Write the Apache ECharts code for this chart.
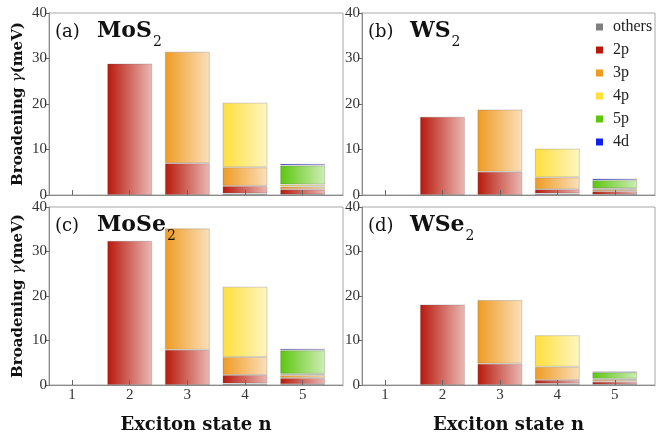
<!DOCTYPE html>
<html>
<head>
<meta charset="utf-8">
<script src="https://cdn.jsdelivr.net/npm/echarts@6/dist/echarts.min.js"></script>
<style>
  html, body { margin: 0; padding: 0; background: #fff; }
  #chart { width: 656px; height: 435px; }
</style>
</head>
<body>
<div id="chart"></div>
<script>
const states = [1, 2, 3, 4, 5];
const components = ['others', '2p', '3p', '4p', '5p', '4d'];
const yTicks = [0, 10, 20, 30, 40];

// rows follow `components`, columns follow `states` (meV)
const mos2 = [
  [0, 0, 0, 0.35, 0.1],
  [0, 28.9, 7.0, 1.65, 1.15],
  [0, 0, 24.5, 4.1, 0.6],
  [0, 0, 0, 14.2, 0.45],
  [0, 0, 0, 0, 4.2],
  [0, 0, 0, 0, 0.35],
];
const ws2 = [
  [0, 0, 0, 0.35, 0.1],
  [0, 17.2, 5.1, 0.9, 0.75],
  [0, 0, 13.7, 2.65, 0.4],
  [0, 0, 0, 6.3, 0.2],
  [0, 0, 0, 0, 1.8],
  [0, 0, 0, 0, 0.35],
];
const mose2 = [
  [0, 0, 0, 0.35, 0.15],
  [0, 32.4, 7.9, 1.9, 1.45],
  [0, 0, 27.3, 4.05, 0.6],
  [0, 0, 0, 15.8, 0.3],
  [0, 0, 0, 0, 5.3],
  [0, 0, 0, 0, 0.35],
];
const wse2 = [
  [0, 0, 0, 0.3, 0.1],
  [0, 18.1, 4.8, 0.8, 0.65],
  [0, 0, 14.3, 3.0, 0.4],
  [0, 0, 0, 7.1, 0.25],
  [0, 0, 0, 0, 1.45],
  [0, 0, 0, 0, 0.15],
];

const colors = ['#7f7f7f', '#b8180a', '#ef9a22', '#ffdf3a', '#5cc60e', '#1020e8'];
const serif = 'Liberation Serif';
const bold = 'DejaVu Serif';

const panels = [
  { data: mos2, letter: '(a)', formula: 'MoS', grid: { left: 49, top: 13, width: 294, height: 182 }, yName: true, xName: false },
  { data: ws2, letter: '(b)', formula: 'WS', grid: { left: 362, top: 13, width: 293, height: 182 }, yName: false, xName: false },
  { data: mose2, letter: '(c)', formula: 'MoSe', grid: { left: 49, top: 207, width: 294, height: 184 }, yName: true, xName: true },
  { data: wse2, letter: '(d)', formula: 'WSe', grid: { left: 362, top: 207, width: 293, height: 184 }, yName: false, xName: true },
];

function fade(hex, a) {
  const n = parseInt(hex.slice(1), 16);
  return `rgba(${n >> 16},${(n >> 8) & 255},${n & 255},${a})`;
}

const ctx = document.createElement('canvas').getContext('2d');
function textWidth(str, font) {
  ctx.font = font;
  return ctx.measureText(str).width;
}

const grid = [], xAxis = [], yAxis = [], series = [], graphic = [];

panels.forEach((p, k) => {
  grid.push(Object.assign({ show: true, borderColor: '#a8a8a8', borderWidth: 1 }, p.grid));
  xAxis.push({
    type: 'value', gridIndex: k, min: 0.6, max: 5.7, z: 5,
    axisLine: { lineStyle: { color: '#8a8a8a' } },
    axisTick: { inside: true, length: 5, customValues: states, lineStyle: { color: '#666' } },
    axisLabel: { show: p.xName, customValues: states, margin: 3, color: '#333', fontFamily: serif, fontSize: 15 },
    splitLine: { show: false },
    name: p.xName ? 'Exciton state n' : '',
    nameLocation: 'middle', nameGap: 31,
    nameTextStyle: { fontFamily: bold, fontWeight: 'bold', fontSize: 18, color: '#111' },
  });
  yAxis.push({
    type: 'value', gridIndex: k, min: 0, max: 40, interval: 10,
    axisLine: { show: true, lineStyle: { color: '#8a8a8a' } },
    axisTick: { show: true, length: 3, lineStyle: { color: '#666' } },
    axisLabel: { margin: 2, color: '#333', fontFamily: serif, fontSize: 15, customValues: yTicks },
    splitLine: { show: false },
    name: p.yName ? '{b|Broadening }{g|γ}{b|(meV)}' : '',
    nameLocation: 'middle', nameGap: 23,
    nameTextStyle: {
      rich: {
        b: { fontFamily: bold, fontWeight: 'bold', fontSize: 15, color: '#111' },
        g: { fontFamily: bold, fontStyle: 'italic', fontSize: 15, color: '#111' },
      },
    },
  });
  components.forEach((c, j) => {
    series.push({
      name: c, type: 'bar', stack: 'p' + k,
      xAxisIndex: k, yAxisIndex: k,
      barWidth: 45,
      // value first so that the y dimension is the one that gets stacked (by index)
      data: states.map((n, i) => [p.data[j][i] || null, n]),
      encode: { x: 1, y: 0 },
      itemStyle: {
        color: new echarts.graphic.LinearGradient(0, 0, 1, 0, [
          { offset: 0, color: colors[j] },
          { offset: 1, color: fade(colors[j], 0.3) },
        ]),
        borderColor: 'rgba(90,90,90,0.25)',
        borderWidth: 1,
      },
      emphasis: { disabled: true },
    });
  });

  // panel label like "(a)  MoS₂"
  const x0 = p.grid.left + 6, y0 = p.grid.top + 19;
  const fFont = `bold 22px "${bold}"`;
  const fx = x0 + 42;
  graphic.push(
    { type: 'text', z: 100, left: x0, top: y0 - 9, style: { text: p.letter, font: `18px "${bold}"`, fill: '#111' } },
    { type: 'text', z: 100, left: fx, top: y0 - 12, style: { text: p.formula, font: fFont, fill: '#111' } },
    { type: 'text', z: 100, left: fx + textWidth(p.formula, fFont) + 1, top: y0 + 3, style: { text: '2', font: `14px "${bold}"`, fill: '#111' } }
  );
});

const chart = echarts.init(document.getElementById('chart'));
chart.setOption({
  animation: false,
  backgroundColor: '#fff',
  legend: {
    orient: 'vertical', left: 596, top: 19, padding: 0,
    itemWidth: 7, itemHeight: 7, itemGap: 7,
    selectedMode: false,
    data: components.map((c, j) => ({ name: c, icon: 'rect', itemStyle: { color: colors[j], borderWidth: 0 } })),
    textStyle: { fontFamily: serif, fontSize: 16, color: '#222', padding: [0, 0, 0, 5] },
  },
  grid, xAxis, yAxis, series, graphic,
});
</script>
</body>
</html>
